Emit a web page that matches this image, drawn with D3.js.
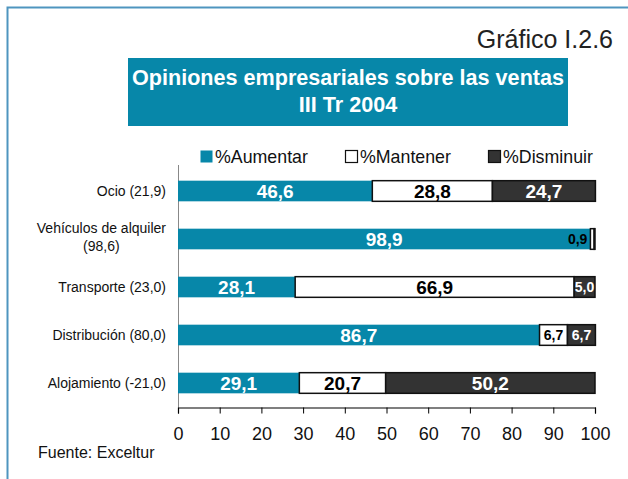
<!DOCTYPE html>
<html>
<head>
<meta charset="utf-8">
<script src="https://cdn.jsdelivr.net/npm/d3@7"></script>
<style>
  body { margin: 0; background: #fff; }
  svg { display: block; font-family: "Liberation Sans", Arial, Helvetica, sans-serif; }
</style>
</head>
<body>
<svg id="chart" width="628" height="479"></svg>
<script>
// data
var categories = ["Ocio", "Vehiculos", "Transporte", "Distribucion", "Alojamiento"];
var categoryLines = [
  ["Ocio (21,9)"],
  ["Vehículos de alquiler", "(98,6)"],
  ["Transporte (23,0)"],
  ["Distribución (80,0)"],
  ["Alojamiento (-21,0)"]
];
var aumentar  = [46.6, 98.9, 28.1, 86.7, 29.1];
var mantener  = [28.8, 0.9, 66.9, 6.7, 20.7];
var disminuir = [24.7, 0.2, 5.0, 6.7, 50.2];
var seriesNames = ["%Aumentar", "%Mantener", "%Disminuir"];
var xTicks = [0, 10, 20, 30, 40, 50, 60, 70, 80, 90, 100];

var teal = "#0787a9", dark = "#333333";
var fills = [teal, "#ffffff", dark];
var textCols = ["#ffffff", "#000000", "#ffffff"];

var svg = d3.select("#chart");

// frame
svg.append("path").attr("d", "M7.5,479V7.5H628")
  .attr("fill", "none").attr("stroke", "#4f95bf").attr("stroke-width", 2);

svg.append("text").attr("x", 613).attr("y", 48)
  .attr("text-anchor", "end").attr("font-size", 25).attr("fill", "#222")
  .text("Gráfico I.2.6");

// title box
svg.append("rect").attr("x", 128).attr("y", 58).attr("width", 440).attr("height", 68).attr("fill", teal);
var tt = svg.append("text").attr("text-anchor", "middle").attr("fill", "#fff")
  .attr("font-weight", "bold").attr("font-size", 21.6);
tt.append("tspan").attr("x", 348).attr("y", 85).text("Opiniones empresariales sobre las ventas");
tt.append("tspan").attr("x", 348).attr("y", 112).text("III Tr 2004");

var table = categories.map(function(c, i) {
  return {cat: c, a: aumentar[i], m: mantener[i], d: disminuir[i]};
});
var stack = d3.stack().keys(["a", "m", "d"])(table);

var x = d3.scaleLinear().domain([0, 100]).range([178, 595]);
var y = d3.scaleBand().domain(categories).range([167, 407]).paddingInner(0.57).paddingOuter(0.285);

// y axis line
svg.append("line").attr("x1", 178.5).attr("x2", 178.5).attr("y1", 165).attr("y2", 407)
  .attr("stroke", "#888").attr("stroke-width", 1);

// segments
stack.forEach(function(s, k) {
  svg.append("g").selectAll("rect").data(s).enter().append("rect")
    .attr("x", function(d) { return x(d[0]); })
    .attr("y", function(d) { return y(d.data.cat); })
    .attr("width", function(d) { return x(d[1]) - x(d[0]); })
    .attr("height", y.bandwidth())
    .attr("fill", fills[k])
    .attr("stroke", k == 0 ? "none" : "#111")
    .attr("stroke-width", 1.5);
});

// value labels
stack.forEach(function(s, k) {
  s.forEach(function(d) {
    var v = d[1] - d[0];
    if (v < 0.5) return;
    var w = x(d[1]) - x(d[0]);
    var small = w < 40;
    var t = svg.append("text")
      .attr("y", y(d.data.cat) + y.bandwidth() / 2)
      .attr("dy", "0.36em")
      .attr("font-weight", "bold")
      .attr("font-size", small ? 14 : 19)
      .text(d3.format(".1f")(v).replace(".", ","));
    if (w < 12) {
      t.attr("x", x(d[0]) - 3).attr("text-anchor", "end").attr("fill", "#000");
    } else {
      t.attr("x", (x(d[0]) + x(d[1])) / 2).attr("text-anchor", "middle").attr("fill", textCols[k]);
    }
  });
});

// category labels
categories.forEach(function(c, i) {
  var lines = categoryLines[i];
  var cy = y(c) + y.bandwidth() / 2;
  if (lines.length == 1) {
    svg.append("text").attr("x", 166).attr("y", cy).attr("dy", "0.36em")
      .attr("text-anchor", "end").attr("font-size", 14).attr("fill", "#111").text(lines[0]);
  } else {
    var t1 = svg.append("text").attr("x", 166).attr("y", cy - 6)
      .attr("text-anchor", "end").attr("font-size", 14).attr("fill", "#111").text(lines[0]);
    var w = t1.node().getComputedTextLength();
    svg.append("text").attr("x", 166 - w / 2).attr("y", cy + 12)
      .attr("text-anchor", "middle").attr("font-size", 14).attr("fill", "#111").text(lines[1]);
  }
});

// x axis
var xAxis = svg.append("g").attr("transform", "translate(0,407.5)")
  .call(d3.axisBottom(x).tickValues(xTicks).tickSize(6).tickPadding(14).tickFormat(d3.format("d")));
xAxis.select(".domain").attr("stroke", "#000").attr("stroke-width", 1.2);
xAxis.selectAll(".tick line").attr("stroke", "#000");
xAxis.selectAll(".tick text").attr("font-size", 18).attr("fill", "#111")
  .attr("font-family", "Liberation Sans, Arial, sans-serif");

// legend
var legX = [200, 345, 488];
seriesNames.forEach(function(n, k) {
  svg.append("rect").attr("x", legX[k] + 0.5).attr("y", 150.5).attr("width", 12).attr("height", 12)
    .attr("fill", fills[k]).attr("stroke", k == 0 ? "none" : "#111").attr("stroke-width", 1.2);
  svg.append("text").attr("x", legX[k] + 15).attr("y", 163).attr("font-size", 17.8).attr("fill", "#111").text(n);
});

svg.append("text").attr("x", 38).attr("y", 458).attr("font-size", 16).attr("fill", "#111").text("Fuente: Exceltur");
</script>
</body>
</html>
